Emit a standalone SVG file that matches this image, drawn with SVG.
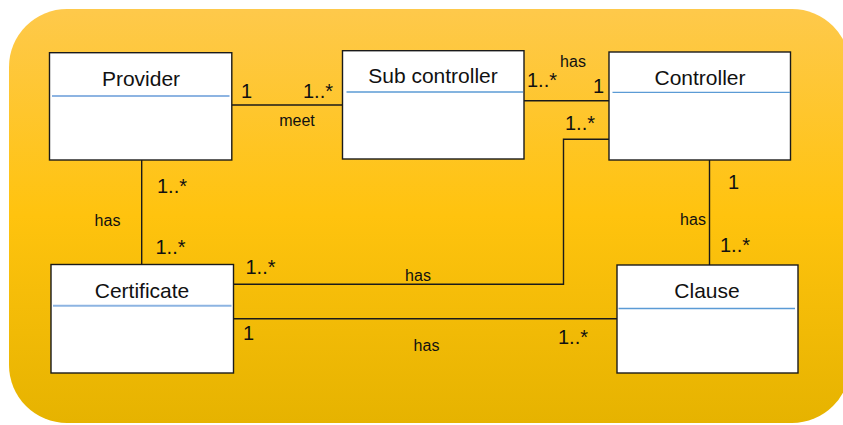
<svg xmlns="http://www.w3.org/2000/svg" width="843" height="425" viewBox="0 0 843 425">
  <defs>
    <linearGradient id="gold" x1="0" y1="0" x2="0" y2="1">
      <stop offset="0" stop-color="#FEC94B"/>
      <stop offset="0.5" stop-color="#FFC30E"/>
      <stop offset="1" stop-color="#E6B300"/>
    </linearGradient>
    <style>
      .box { fill: #FFFFFF; stroke: #1A1A1A; stroke-width: 1.4; }
      .sep { stroke: #8DB4E2; stroke-width: 2; }
      .sep2 { stroke: #5B9BD5; stroke-width: 1.3; }
      .title { font-family: "Liberation Sans", Arial, sans-serif; font-size: 21px; fill: #111111; text-anchor: middle; }
      .mult { font-family: "Liberation Sans", Arial, sans-serif; font-size: 20px; fill: #111111; }
      .role { font-family: "Liberation Sans", Arial, sans-serif; font-size: 16px; fill: #111111; text-anchor: middle; }
      .link { fill: none; stroke: #1A1A1A; stroke-width: 1.4; }
    </style>
  </defs>

  <rect width="843" height="425" fill="#FFFFFF"/>
  <!-- gold backdrop panel -->
  <rect x="9" y="9" width="841" height="414" rx="58" ry="58" fill="url(#gold)"/>

  <!-- associations -->
  <g id="connectors">
    <line class="link" x1="232" y1="105" x2="343" y2="105"/>
    <line class="link" x1="522" y1="100.7" x2="611.5" y2="100.7"/>
    <polyline class="link" points="609,139.3 563.5,139.3 563.5,284.3 233.5,284.3"/>
    <line class="link" x1="233.5" y1="318.7" x2="617" y2="318.7"/>
    <line class="link" x1="141.7" y1="160" x2="141.7" y2="266"/>
    <line class="link" x1="709.5" y1="160" x2="709.5" y2="265"/>

    <!-- Provider - Sub controller -->
    <text class="mult" x="241" y="98">1</text>
    <text class="mult" x="303" y="98">1..*</text>
    <text class="role" x="297" y="126">meet</text>

    <!-- Sub controller - Controller -->
    <text class="role" x="573" y="67">has</text>
    <text class="mult" x="527" y="87">1..*</text>
    <text class="mult" x="593" y="92.5">1</text>

    <!-- Certificate - Controller -->
    <text class="mult" x="565" y="130">1..*</text>
    <text class="mult" x="245.5" y="273.5">1..*</text>
    <text class="role" x="418" y="281">has</text>

    <!-- Provider - Certificate -->
    <text class="mult" x="157" y="192.5">1..*</text>
    <text class="role" x="107.5" y="225.5">has</text>
    <text class="mult" x="155.5" y="254">1..*</text>

    <!-- Controller - Clause -->
    <text class="mult" x="728" y="189">1</text>
    <text class="role" x="693" y="225">has</text>
    <text class="mult" x="720" y="252">1..*</text>

    <!-- Certificate - Clause -->
    <text class="mult" x="243" y="339.5">1</text>
    <text class="mult" x="558" y="343.5">1..*</text>
    <text class="role" x="426.5" y="351">has</text>
  </g>

  <g id="provider">
    <rect class="box" x="49.5" y="52.7" width="182.3" height="107.3"/>
    <line class="sep" x1="52" y1="96" x2="229.5" y2="96"/>
    <text class="title" x="141" y="86">Provider</text>
  </g>

  <g id="sub-controller">
    <rect class="box" x="342.5" y="50.7" width="181.5" height="108.3"/>
    <line class="sep2" x1="346.5" y1="92" x2="523" y2="92"/>
    <text class="title" x="433" y="83">Sub controller</text>
  </g>

  <g id="controller">
    <rect class="box" x="609" y="52" width="181.5" height="108"/>
    <line class="sep2" x1="612.5" y1="92.3" x2="790" y2="92.3"/>
    <text class="title" x="700" y="85">Controller</text>
  </g>

  <g id="certificate">
    <rect class="box" x="51" y="264.5" width="182.5" height="108.5"/>
    <line class="sep" x1="53" y1="305.8" x2="231.5" y2="305.8"/>
    <text class="title" x="142" y="298">Certificate</text>
  </g>

  <g id="clause">
    <rect class="box" x="617" y="265" width="181" height="108"/>
    <line class="sep2" x1="618.5" y1="308.5" x2="795" y2="308.5"/>
    <text class="title" x="707" y="298">Clause</text>
  </g>
</svg>
